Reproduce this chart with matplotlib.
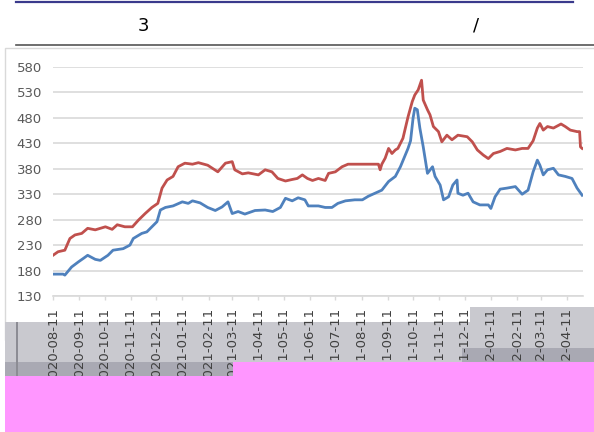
import numpy as np
import matplotlib
matplotlib.use('Agg')
import matplotlib.pyplot as plt
from matplotlib.patches import Rectangle
from matplotlib.lines import Line2D

# days since 2020-08-11 and values
blue_days = [0, 12, 14, 22, 30, 36, 41, 50, 56, 65, 71, 83, 91, 95, 105, 111, 117, 123,
             127, 133, 142, 153, 160, 165, 174, 183, 192, 200, 207, 212, 219, 227, 239,
             251, 260, 269, 275, 283, 290, 298, 302, 314, 322, 330, 337, 346, 357, 366,
             373, 381, 389, 397, 405, 411, 415, 420, 423, 426, 428, 431, 434, 438, 443,
             449, 452, 458, 462, 468, 473, 478, 479, 485, 491, 497, 505, 515, 518, 523,
             529, 537, 547, 555, 562, 568, 573, 576, 580, 585, 592, 598, 606, 614, 620, 626]
blue_vals = [173, 173, 171, 187, 197, 204, 210, 202, 200, 210, 220, 223, 230, 243, 253, 256, 266, 276,
             299, 304, 307, 315, 312, 317, 313, 304, 298, 305, 315, 292, 296, 291, 298,
             299, 296, 304, 322, 317, 323, 319, 307, 307, 304, 304, 312, 317, 319, 319,
             326, 332, 338, 355, 365, 384, 400, 420, 435, 480, 499, 496, 460, 423, 371,
             384, 365, 348, 319, 325, 348, 358, 332, 328, 332, 315, 309, 309, 302, 325,
             340, 342, 345, 330, 338, 374, 397, 387, 368, 378, 381, 368, 365, 361, 342, 328]

red_days = [0, 6, 14, 20, 26, 34, 41, 50, 62, 70, 76, 85, 94, 101, 109, 117, 124, 129,
            135, 142, 148, 156, 165, 172, 183, 195, 204, 212, 215, 224, 231, 243, 251,
            259, 266, 275, 283, 289, 295, 301, 307, 314, 322, 326, 334, 342, 349, 361,
            385, 387, 389, 393, 397, 401, 405, 408, 411, 414, 420, 425, 428, 432, 436,
            438, 443, 446, 450, 456, 460, 466, 472, 479, 490, 496, 502, 509, 515, 521,
            529, 537, 547, 555, 562, 568, 573, 576, 580, 585, 592, 601, 606, 612, 620,
            623, 624, 626]
red_vals = [210, 217, 220, 243, 250, 253, 263, 260, 266, 261, 270, 266, 266, 279, 292, 304, 312, 342,
            358, 365, 384, 391, 389, 392, 387, 374, 391, 394, 378, 370, 372, 368, 378,
            374, 361, 356, 359, 361, 368, 361, 357, 361, 357, 371, 374, 384, 389, 389,
            389, 378, 389, 401, 420, 410, 417, 420, 430, 440, 482, 512, 525, 535, 554,
            515, 496, 486, 463, 453, 433, 446, 437, 446, 443, 433, 417, 407, 400, 410,
            414, 420, 417, 420, 420, 435, 460, 469, 456, 463, 460, 468, 463, 456, 453,
            453, 423, 420]

tick_labels = ['2020-08-11', '2020-09-11', '2020-10-11', '2020-11-11', '2020-12-11',
               '2021-01-11', '2021-02-11', '2021-03-11', '2021-04-11', '2021-05-11',
               '2021-06-11', '2021-07-11', '2021-08-11', '2021-09-11', '2021-10-11',
               '2021-11-11', '2021-12-11', '2022-01-11', '2022-02-11', '2022-03-11',
               '2022-04-11']
y_ticks = [130, 180, 230, 280, 330, 380, 430, 480, 530, 580]

start = np.datetime64('2020-08-11')
blue_x = start + np.array(blue_days).astype('timedelta64[D]')
red_x = start + np.array(red_days).astype('timedelta64[D]')
tick_x = [np.datetime64(s) for s in tick_labels]

W, H = 594, 432


def box(x0, y0, x1, y1, **kw):
    # rectangle given in pixel coords (origin top-left)
    return Rectangle((x0 / W, 1 - y1 / H), (x1 - x0) / W, (y1 - y0) / H,
                     transform=fig.transFigure, **kw)


fig = plt.figure(figsize=(5.94, 4.32), dpi=100)

# chart frame and the grey strip behind the labels
fig.patches.append(box(5, 48, 600, 340, fc='white', ec='#d9d9d9', lw=1, zorder=-5))
fig.patches.append(box(5, 322, 600, 362, fc='#c9c9cf', ec='none', zorder=-4))
fig.patches.append(box(470, 307, 600, 322, fc='#c9c9cf', ec='none', zorder=-4))
fig.patches.append(box(5, 362, 600, 376, fc='#a9a9b3', ec='none', zorder=-4))
fig.patches.append(box(462, 348, 600, 362, fc='#a9a9b3', ec='none', zorder=-4))
fig.patches.append(box(16, 322, 18, 376, fc='#8c8c94', ec='none', zorder=-3))
# pink block at the bottom
fig.patches.append(box(5, 376, 600, 440, fc='#ff96ff', ec='none', zorder=10))
fig.patches.append(box(233, 362, 600, 377, fc='#ff96ff', ec='none', zorder=10))

# header
fig.add_artist(Line2D([16 / W, 573 / W], [1 - 2 / H] * 2, color='#3a3a8c', lw=1.6))
fig.add_artist(Line2D([16 / W, 1.0], [1 - 45 / H] * 2, color='#555555', lw=1.2))
fig.text(143 / W, 1 - 26 / H, '3', ha='center', va='center', fontsize=13)
fig.text(476 / W, 1 - 26 / H, '/', ha='center', va='center', fontsize=13)

ax = fig.add_axes([53 / W, 1 - 296 / H, 530 / W, 229 / H])
ax.set_facecolor('white')
ax.plot(red_x, red_vals, color='#c0504d', lw=2.0, zorder=3)
ax.plot(blue_x, blue_vals, color='#4f81bd', lw=2.0, zorder=3)

ax.set_ylim(130, 580)
ax.set_xlim(start, np.datetime64('2022-04-30'))
ax.set_yticks(y_ticks)
ax.set_xticks(tick_x)
ax.set_xticklabels(tick_labels, rotation=90, fontsize=9.5, color='#404040')
ax.tick_params(axis='y', length=0, pad=8, labelsize=9.5, labelcolor='#595959')
ax.tick_params(axis='x', length=3, color='#d9d9d9', width=1, pad=5.5)
ax.grid(axis='y', color='#d9d9d9', lw=1.2)
ax.set_axisbelow(True)
for s in ['top', 'right', 'left']:
    ax.spines[s].set_visible(False)
ax.spines['bottom'].set_color('#d9d9d9')
ax.spines['bottom'].set_linewidth(1.2)

fig.savefig('out.png', dpi=100)
